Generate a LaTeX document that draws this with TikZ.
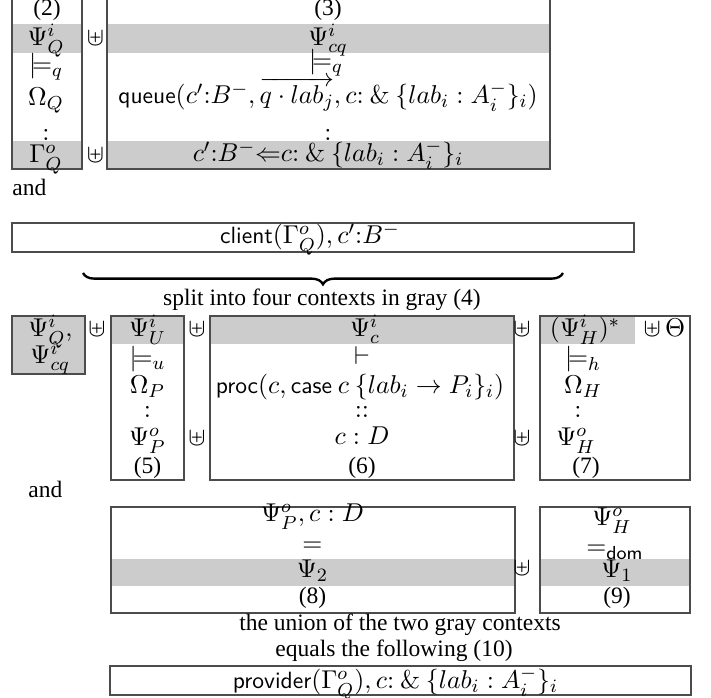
\documentclass[tikz,border=0pt]{standalone}
\usepackage{amsmath,amssymb}
\usepackage[no-math]{fontspec}
\setmainfont{Liberation Serif}
\DeclareMathSizes{10}{10.95}{8}{6}
\usetikzlibrary{decorations.pathreplacing}

\begin{document}
\begin{tikzpicture}[x=0.425pt,y=-0.425pt,
    ctx/.style={draw=black!70,line width=0.5pt},
    shade/.style={fill=black!20},
    txt/.style={anchor=base,inner sep=0pt}]
    \useasboundingbox (0,0) rectangle (711,698);
    \clip (0,0) rectangle (711,698);
    % Kontekster (2) og (3)
    \fill[shade] (12,24) rectangle (82,52.7);
    \fill[shade] (12,141) rectangle (82,169);
    \fill[shade] (107,24) rectangle (550,52.7);
    \fill[shade] (107,141) rectangle (550,169);
    \draw[ctx] (12,-5) rectangle (82,169);
    \draw[ctx] (107,-5) rectangle (550,169);
    \node[txt] (lab2) at (47,16) {(2)};
    \node[txt] (psiQ) at (46,46) {$\Psi^i_Q$};
    \node[txt] (modQ) at (46,73) {$\models_q$};
    \node[txt] (omQ) at (46,106) {$\Omega_Q$};
    \node[txt] (dotQ) at (46,141) {$:$};
    \node[txt] (gamQ) at (46,163) {$\Gamma^o_Q$};
    \node[txt] (uA) at (95.5,46) {$\uplus$};
    \node[txt] (uB) at (95.5,163) {$\uplus$};
    \node[txt] (lab3) at (328,16) {(3)};
    \node[txt] (psiCQ) at (328,46) {$\Psi^i_{cq}$};
    \node[txt] (modCQ) at (326,69) {$\models_q$};
    \node[txt] (queue) at (328,104) {\textsf{queue}$(c'{:}B^-, \overrightarrow{q\cdot lab_j}, c{:}\ \&\ \{lab_i : A_i^-\}_i)$};
    \node[txt] (dotCQ) at (328,141) {$:$};
    \node[txt] (recv) at (328,162) {$c'{:}B^-{\Leftarrow}c{:}\ \&\ \{lab_i : A_i^-\}_i$};
    \node[txt,anchor=base west] (and1) at (12,196) {and};
    % Klienten
    \draw[ctx] (12,223) rectangle (634,252);
    \node[txt] (client) at (310,244) {\textsf{client}$(\Gamma^o_Q), c'{:}B^-$};
    \coordinate (brL) at (83,273);
    \coordinate (brR) at (563,273);
    \draw[decorate,decoration={brace,mirror,amplitude=4.8pt},line width=1pt] (brL) -- (brR);
    \node[txt] (split) at (322,306) {split into four contexts in gray (4)};
    % De fire kontekster
    \fill[shade] (12,316) rectangle (85,374);
    \draw[ctx] (12,316) rectangle (85,374);
    \node[txt,anchor=base west] (psiQa) at (28,337) {$\Psi^i_Q,$};
    \node[txt,anchor=base west] (psiCQa) at (30,364) {$\Psi^i_{cq}$};
    \node[txt] (uC) at (97,337) {$\uplus$};
    \fill[shade] (111,316) rectangle (184,344);
    \draw[ctx] (111,316) rectangle (184,480);
    \node[txt] (psiU) at (147.5,337) {$\Psi^i_U$};
    \node[txt] (modU) at (147.5,366) {$\models_u$};
    \node[txt] (omP) at (147.5,394) {$\Omega_P$};
    \node[txt] (dotP) at (147.5,418) {$:$};
    \node[txt] (psiP) at (147.5,446) {$\Psi^o_P$};
    \node[txt] (lab5) at (147.5,474) {(5)};
    \node[txt] (uD) at (197,337) {$\uplus$};
    \node[txt] (uE) at (197,446) {$\uplus$};
    \fill[shade] (210,316) rectangle (514,344);
    \draw[ctx] (210,316) rectangle (514,480);
    \node[txt] (psiC) at (365,337) {$\Psi^i_c$};
    \node[txt] (vdC) at (362,365) {$\vdash$};
    \node[txt] (proc) at (360,394) {\textsf{proc}$(c, \textsf{case}\ c\ \{lab_i \to P_i\}_i)$};
    \node[txt] (dotC) at (362,418) {$::$};
    \node[txt] (typC) at (362,445) {$c : D$};
    \node[txt] (lab6) at (362,474) {(6)};
    \node[txt] (uF) at (522,337) {$\uplus$};
    \node[txt] (uG) at (522,446) {$\uplus$};
    \fill[shade] (540,316) rectangle (635,344);
    \draw[ctx] (540,316) rectangle (690,480);
    \node[txt] (psiH) at (585,337) {$(\Psi^i_H)^*$};
    \node[txt] (theta) at (664.5,337) {$\uplus\,\Theta$};
    \node[txt] (modH) at (583,366) {$\models_h$};
    \node[txt] (omH) at (583,394) {$\Omega_H$};
    \node[txt] (dotH) at (578,418) {$:$};
    \node[txt] (psiHo) at (576,446) {$\Psi^o_H$};
    \node[txt] (lab7) at (586,474) {(7)};
    \node[txt,anchor=base west] (and2) at (28,498) {and};
    % Ligheder (8) og (9)
    \fill[shade] (111,559) rectangle (515,586);
    \draw[ctx] (111,507) rectangle (515,613);
    \node[txt] (eqL) at (312.5,522) {$\Psi^o_P, c : D$};
    \node[txt] (eqA) at (312.5,552) {$=$};
    \node[txt] (psi2) at (312.5,578) {$\Psi_2$};
    \node[txt] (lab8) at (312.5,604) {(8)};
    \node[txt] (uH) at (522,576) {$\uplus$};
    \fill[shade] (540,559) rectangle (690,586);
    \draw[ctx] (540,507) rectangle (690,613);
    \node[txt] (eqR) at (612,526) {$\Psi^o_H$};
    \node[txt] (eqB) at (615,555) {$=_{\textsf{dom}}$};
    \node[txt] (psi1) at (617,578) {$\Psi_1$};
    \node[txt] (lab9) at (617,604) {(9)};
    \node[txt] (union) at (400,631) {the union of the two gray contexts};
    \node[txt] (equals) at (394,657) {equals the following (10)};
    % Udbyderen
    \draw[ctx] (110,666) rectangle (691,695);
    \node[txt] (provider) at (395.5,689) {\textsf{provider}$(\Gamma^o_Q), c{:}\ \&\ \{lab_i : A_i^-\}_i$};
\end{tikzpicture}
\end{document}
